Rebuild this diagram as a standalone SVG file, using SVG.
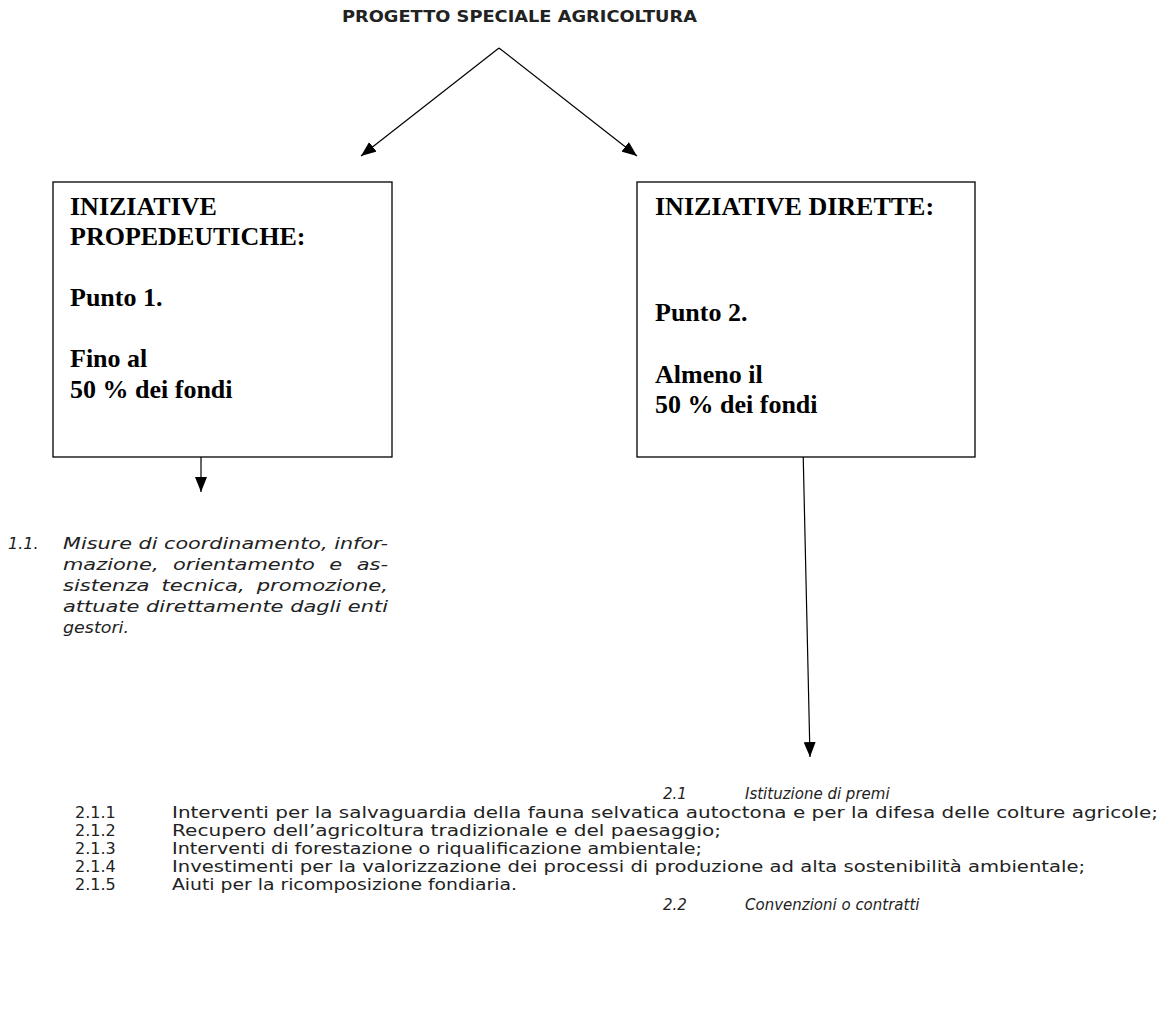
<svg xmlns="http://www.w3.org/2000/svg" width="1173" height="1035" viewBox="0 0 1173 1035">
<style>
.box{fill:#fff;stroke:#000;stroke-width:1.3}
.bt{font-family:"Liberation Serif","Times New Roman",serif;font-weight:bold;font-size:26px;fill:#000}
.title{font-family:"DejaVu Sans","Liberation Sans",sans-serif;font-weight:bold;font-size:15px;fill:#222}
.it{font-family:"DejaVu Sans","Liberation Sans",sans-serif;font-style:italic;font-size:16px;fill:#222}
.it2{font-family:"DejaVu Sans","Liberation Sans",sans-serif;font-style:italic;font-size:15px;fill:#222}
.tx{font-family:"DejaVu Sans","Liberation Sans",sans-serif;font-size:16px;fill:#222}
.ln{stroke:#000;stroke-width:1.2;fill:none;marker-end:url(#ah)}
</style>
<defs>
<marker id="ah" markerUnits="userSpaceOnUse" markerWidth="16" markerHeight="12" refX="15" refY="6" orient="auto">
<path d="M0,0 L15,6 L0,12 z" fill="#000"/>
</marker>
</defs>
<rect width="1173" height="1035" fill="#fff"/>
<g id="title">
<text class="title" x="342" y="22" textLength="355" lengthAdjust="spacingAndGlyphs">PROGETTO SPECIALE AGRICOLTURA</text>
</g>
<g id="connectors">
<line class="ln" x1="499" y1="48" x2="361" y2="156"/>
<line class="ln" x1="499" y1="48" x2="637" y2="156"/>
<line class="ln" x1="201" y1="449" x2="201" y2="492"/>
<line class="ln" x1="803" y1="447" x2="810" y2="757"/>
</g>
<g id="box1">
<rect class="box" x="53" y="182" width="339" height="275"/>
<text class="bt" x="70" y="215">INIZIATIVE</text>
<text class="bt" x="70" y="245">PROPEDEUTICHE:</text>
<text class="bt" x="70" y="306">Punto 1.</text>
<text class="bt" x="70" y="367">Fino al</text>
<text class="bt" x="70" y="398">50 % dei fondi</text>
</g>
<g id="box2">
<rect class="box" x="637" y="182" width="338" height="275"/>
<text class="bt" x="655" y="215">INIZIATIVE DIRETTE:</text>
<text class="bt" x="655" y="321">Punto 2.</text>
<text class="bt" x="655" y="383">Almeno il</text>
<text class="bt" x="655" y="413">50 % dei fondi</text>
</g>
<g id="item1-1">
<text class="it" x="8" y="549">1.1.</text>
<text class="it" x="63" y="549" textLength="325" lengthAdjust="spacingAndGlyphs">Misure di coordinamento, infor-</text>
<text class="it" x="63" y="570" textLength="325" lengthAdjust="spacingAndGlyphs" word-spacing="6">mazione, orientamento e as-</text>
<text class="it" x="63" y="591" textLength="325" lengthAdjust="spacingAndGlyphs" word-spacing="4">sistenza tecnica, promozione,</text>
<text class="it" x="63" y="612" textLength="325" lengthAdjust="spacingAndGlyphs">attuate direttamente dagli enti</text>
<text class="it" x="63" y="633" textLength="66" lengthAdjust="spacingAndGlyphs">gestori.</text>
</g>
<g id="items2">
<text class="it2" x="663" y="799">2.1</text>
<text class="it2" x="745" y="799">Istituzione di premi</text>
<text class="tx" x="75" y="818">2.1.1</text>
<text class="tx" x="172" y="818" textLength="986" lengthAdjust="spacingAndGlyphs">Interventi per la salvaguardia della fauna selvatica autoctona e per la difesa delle colture agricole;</text>
<text class="tx" x="75" y="836">2.1.2</text>
<text class="tx" x="172" y="836" textLength="549" lengthAdjust="spacingAndGlyphs">Recupero dell’agricoltura tradizionale e del paesaggio;</text>
<text class="tx" x="75" y="854">2.1.3</text>
<text class="tx" x="172" y="854" textLength="530" lengthAdjust="spacingAndGlyphs">Interventi di forestazione o riqualificazione ambientale;</text>
<text class="tx" x="75" y="872">2.1.4</text>
<text class="tx" x="172" y="872" textLength="913" lengthAdjust="spacingAndGlyphs">Investimenti per la valorizzazione dei processi di produzione ad alta sostenibilità ambientale;</text>
<text class="tx" x="75" y="890">2.1.5</text>
<text class="tx" x="172" y="890" textLength="345" lengthAdjust="spacingAndGlyphs">Aiuti per la ricomposizione fondiaria.</text>
<text class="it2" x="663" y="910">2.2</text>
<text class="it2" x="745" y="910">Convenzioni o contratti</text>
</g>
</svg>
